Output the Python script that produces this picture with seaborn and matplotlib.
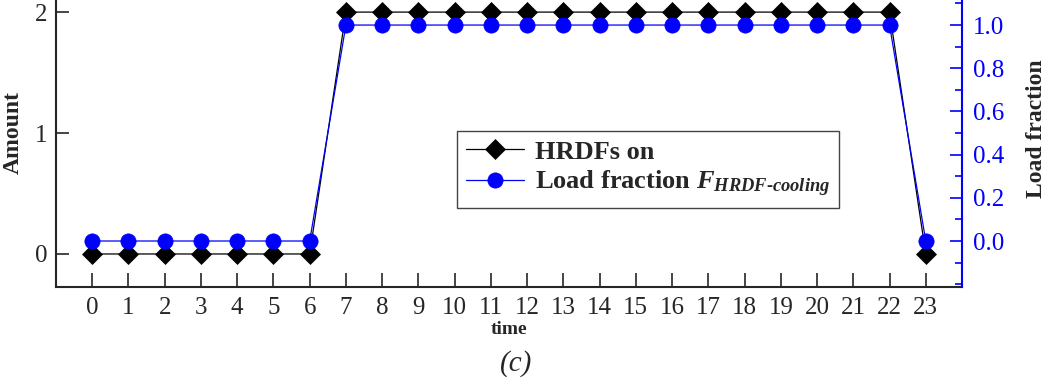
import matplotlib
matplotlib.use("Agg")
import matplotlib.pyplot as plt
from matplotlib.ticker import MultipleLocator
import seaborn as sns

# Hourly data
hours = [0, 1, 2, 3, 4, 5, 6, 7, 8, 9, 10, 11, 12, 13, 14, 15, 16, 17, 18, 19, 20, 21, 22, 23]
hrdfs_on = [0, 0, 0, 0, 0, 0, 0, 2, 2, 2, 2, 2, 2, 2, 2, 2, 2, 2, 2, 2, 2, 2, 2, 0]
load_fraction = [0.0, 0.0, 0.0, 0.0, 0.0, 0.0, 0.0, 1.0, 1.0, 1.0, 1.0, 1.0, 1.0, 1.0,
                 1.0, 1.0, 1.0, 1.0, 1.0, 1.0, 1.0, 1.0, 1.0, 0.0]

sns.set_style("ticks")
plt.rcParams['font.family'] = ['Liberation Serif', 'DejaVu Serif']
plt.rcParams['mathtext.fontset'] = 'custom'
plt.rcParams['mathtext.it'] = 'Liberation Serif:bold:italic'
plt.rcParams['mathtext.rm'] = 'Liberation Serif:bold'

fig = plt.figure(figsize=(10.46, 3.83), dpi=100)
ax = fig.add_axes([56 / 1046, 1 - 287 / 383, (962 - 56) / 1046, 287 / 383])
ax2 = ax.twinx()

sns.lineplot(x=hours, y=hrdfs_on, ax=ax, color='black', linewidth=0.9,
             marker='D', markersize=10, markeredgecolor='black', markeredgewidth=0.5,
             label='HRDFs on', legend=False)
sns.lineplot(x=hours, y=load_fraction, ax=ax2, color='blue', linewidth=0.9,
             marker='o', markersize=11, markeredgecolor='blue', markeredgewidth=0.5,
             label=r'Load fraction $F_{HRDF\text{-}cooling}$', legend=False)

ax.set_xlim(-1, 24)
ax.set_ylim(-0.273, 2.1)
ax2.set_ylim(-0.213, 1.116)

ax.set_xticks(hours)
ax.set_yticks([0, 1, 2])
ax2.yaxis.set_minor_locator(MultipleLocator(0.1))
ax2.set_yticks([0.0, 0.2, 0.4, 0.6, 0.8, 1.0])
ax2.set_yticklabels(['0.0', '0.2', '0.4', '0.6', '0.8', '1.0'])

ax.tick_params(axis='both', direction='in', length=9, width=1.2, labelsize=18, pad=6)
ax.tick_params(axis='x', length=10, pad=7)
ax2.tick_params(axis='y', which='major', direction='in', length=9, width=1.2,
                colors='blue', labelsize=18, pad=8)
ax2.tick_params(axis='y', which='minor', direction='in', length=5, width=1.2, colors='blue')

for a in (ax, ax2):
    a.spines['top'].set_visible(False)
    a.spines['left'].set_linewidth(1.5)
    a.spines['bottom'].set_linewidth(1.5)
    a.spines['right'].set_linewidth(1.5)
ax.spines['right'].set_visible(False)
ax2.spines['left'].set_visible(False)
ax2.spines['bottom'].set_visible(False)
ax2.spines['right'].set_color('blue')

ax.set_xlabel('time', fontsize=14, fontweight='bold', labelpad=2)
ax.set_ylabel('Amount', fontsize=17, fontweight='bold')
ax2.set_ylabel('Load fraction', fontsize=17, fontweight='bold')
ax.yaxis.set_label_coords((24 - 56) / 906, (287 - 133) / 287)
ax2.yaxis.set_label_coords((1026 - 56) / 906, (287 - 129) / 287)

h1, l1 = ax.get_legend_handles_labels()
h2, l2 = ax2.get_legend_handles_labels()
leg = ax2.legend(h1 + h2, l1 + l2, loc='upper left',
                 bbox_to_anchor=((457 - 56) / 906, (287 - 131) / 287),
                 frameon=True, fancybox=False, edgecolor='#444444', framealpha=1,
                 prop={'weight': 'bold', 'size': 19}, handlelength=2.2,
                 borderpad=0.35, labelspacing=0.2, handletextpad=0.4, borderaxespad=0)
leg.get_frame().set_linewidth(1.0)

fig.text(516 / 1046, 1 - 364 / 383, '(c)', fontsize=21, style='italic',
         ha='center', va='center')

fig.savefig('out.png', dpi=100)
